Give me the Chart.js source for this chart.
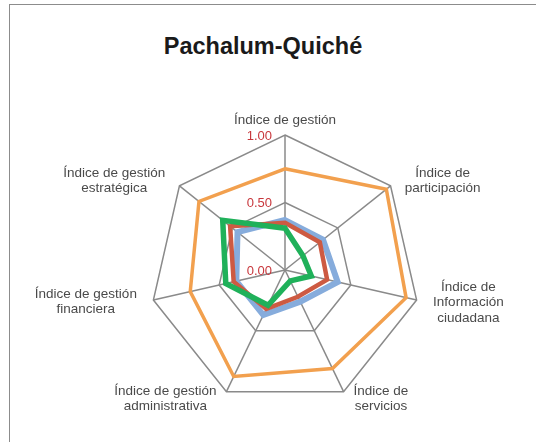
<!DOCTYPE html>
<html>
<head>
<meta charset="utf-8">
<script src="https://cdn.jsdelivr.net/npm/chart.js@4"></script>
<style>
  html, body { margin: 0; padding: 0; background: #ffffff; }
  #wrap { position: relative; width: 536px; height: 442px; overflow: hidden; }
  #frame { position: absolute; left: 9px; top: 4px; width: 700px; height: 600px;
           border-left: 1.5px solid #8c8c8c; border-top: 1.5px solid #8c8c8c; }
  #title { position: absolute; left: 0; width: 526px; top: 32px; text-align: center;
           font: bold 23.5px "Liberation Sans", Arial, sans-serif; color: #1a1a1a; line-height: 28px; }
  canvas { position: absolute; left: 0; top: 0; }
</style>
</head>
<body>
<div id="wrap">
  <div id="frame"></div>
  <div id="title">Pachalum-Quiché</div>
  <canvas id="c" width="536" height="442"></canvas>
</div>
<script>
// ---- data ----
const categories = [
  "Índice de gestión",
  ["Índice de", "participación"],
  ["Índice de", "Información", "ciudadana"],
  ["Índice de", "servicios"],
  ["Índice de gestión", "administrativa"],
  ["Índice de gestión", "financiera"],
  ["Índice de gestión", "estratégica"]
];
const serieNaranja = [0.75, 0.96, 0.92, 0.81, 0.875, 0.72, 0.815];
const serieAzul    = [0.37, 0.36, 0.40, 0.26, 0.37, 0.37, 0.45];
const serieRoja    = [0.35, 0.33, 0.32, 0.22, 0.32, 0.39, 0.52];
const serieVerde   = [0.31, 0.17, 0.20, 0.09, 0.29, 0.45, 0.59];
const tickValues = [0, 0.5, 1];
const tickLabels = ["0.00", "0.50", "1.00"];

// ---- labels drawn around the library's radial scale ----
const labelPlugin = {
  id: 'radarLabels',
  afterDraw(chart) {
    const s = chart.scales.r;
    const ctx = chart.ctx;
    ctx.save();
    // tick labels (red, left of the vertical axis)
    ctx.font = '13px "Liberation Sans", Arial, sans-serif';
    ctx.fillStyle = '#c8373c';
    ctx.textAlign = 'right';
    ctx.textBaseline = 'middle';
    tickValues.forEach((v, k) => {
      const d = s.getDistanceFromCenterForValue(v);
      ctx.fillText(tickLabels[k], s.xCenter - 13, s.yCenter - d + 1);
    });
    // point labels
    ctx.font = '13.5px "Liberation Sans", Arial, sans-serif';
    ctx.fillStyle = '#4a4a4a';
    ctx.textAlign = 'center';
    const lh = 15.5, gapX = 12, gapTop = 6.5;
    chart.data.labels.forEach((lab, i) => {
      const lines = Array.isArray(lab) ? lab : [lab];
      const p = s.getPointPosition(i, s.drawingArea);
      const a = s.getIndexAngle(i);
      const dx = Math.sin(a), dy = -Math.cos(a);
      const w = Math.max(...lines.map(l => ctx.measureText(l).width));
      const h = lines.length * lh;
      let cx, cy;
      if (Math.abs(dx) < 0.1) {
        cx = p.x;
        cy = dy < 0 ? p.y - gapTop - h / 2 : p.y + gapTop + h / 2;
      } else {
        cx = dx > 0 ? p.x + gapX * (0.4 + Math.abs(dx)) + w / 2 : p.x - gapX * (0.4 + Math.abs(dx)) - w / 2;
        cy = p.y + dy * h / 4;
      }
      lines.forEach((l, k) => ctx.fillText(l, cx, cy - h / 2 + lh / 2 + k * lh));
    });
    ctx.restore();
  }
};

new Chart(document.getElementById('c'), {
  type: 'radar',
  data: {
    labels: categories,
    datasets: [
      { label: 'Serie 1', data: serieNaranja, borderColor: '#f2a04e', borderWidth: 3.5, order: 2 },
      { label: 'Serie 2', data: serieAzul,    borderColor: '#86acdc', borderWidth: 6,   order: 3 },
      { label: 'Serie 3', data: serieRoja,    borderColor: '#cd5a42', borderWidth: 4.5, order: 1 },
      { label: 'Serie 4', data: serieVerde,   borderColor: '#1fb15a', borderWidth: 5.5, order: 0 }
    ]
  },
  options: {
    responsive: false,
    animation: false,
    devicePixelRatio: 1,
    layout: { padding: { left: 150, right: 116, top: 135, bottom: 37 } },
    elements: {
      line: { tension: 0, fill: false, borderJoinStyle: 'miter' },
      point: { radius: 0, hoverRadius: 0 }
    },
    plugins: { legend: { display: false }, title: { display: false }, tooltip: { enabled: false } },
    scales: {
      r: {
        min: 0, max: 1,
        ticks: { display: false, stepSize: 0.5 },
        grid: { color: '#8a8a8a', lineWidth: 1.5 },
        angleLines: { color: '#8a8a8a', lineWidth: 1.5 },
        pointLabels: { display: false }
      }
    }
  },
  plugins: [labelPlugin]
});
</script>
</body>
</html>
